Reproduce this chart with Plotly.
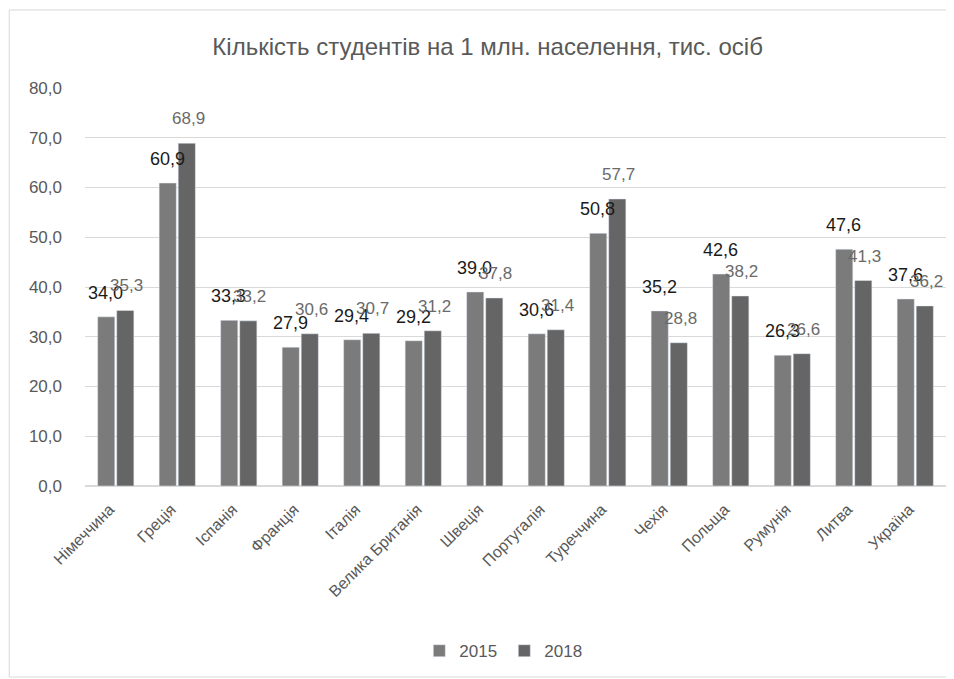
import plotly.graph_objects as go

categories = ["Німеччина", "Греція", "Іспанія", "Франція", "Італія", "Велика Британія",
              "Швеція", "Португалія", "Туреччина", "Чехія", "Польща", "Румунія", "Литва", "Україна"]
values_2015 = [34.0, 60.9, 33.3, 27.9, 29.4, 29.2, 39.0, 30.6, 50.8, 35.2, 42.6, 26.3, 47.6, 37.6]
values_2018 = [35.3, 68.9, 33.2, 30.6, 30.7, 31.2, 37.8, 31.4, 57.7, 28.8, 38.2, 26.6, 41.3, 36.2]
series_names = ["2015", "2018"]
title_text = "Кількість студентів на 1 млн. населення, тис. осіб"

c2015 = "#7b7b7b"
c2018 = "#656565"
font_fam = "Liberation Sans, Arial, sans-serif"

fig = go.Figure()
fig.add_trace(go.Bar(x=categories, y=values_2015, name=series_names[0], marker_color=c2015))
fig.add_trace(go.Bar(x=categories, y=values_2018, name=series_names[1], marker_color=c2018))

def fmt(v):
    return f"{v:.1f}".replace(".", ",")

annotations = []
for c, v in zip(categories, values_2015):
    annotations.append(dict(x=c, y=v, text=fmt(v), showarrow=False, xshift=-10, yshift=12,
                            yanchor="bottom", font=dict(size=18, color="#1a1a1a", family=font_fam)))
for c, v in zip(categories, values_2018):
    annotations.append(dict(x=c, y=v, text=fmt(v), showarrow=False, xshift=11, yshift=13,
                            yanchor="bottom", font=dict(size=17, color="#6a6a6a", family=font_fam)))

fig.update_layout(
    width=946, height=671,
    paper_bgcolor="white", plot_bgcolor="white",
    separators=", ",
    margin=dict(l=77, r=8, t=80, b=193, autoexpand=False),
    title=dict(text=title_text, x=0.507, xanchor="center", y=0.942, yanchor="middle",
               font=dict(size=24, color="#595959", family=font_fam)),
    barmode="group", bargap=0.38, bargroupgap=0.1,
    xaxis=dict(tickangle=-45, tickfont=dict(size=16, color="#595959", family=font_fam),
               showline=False, ticks="", showgrid=False, ticklabelstandoff=10, ticklabelshift=-6),
    yaxis=dict(range=[0, 80], dtick=10, tickformat=".1f", showgrid=True, gridcolor="#d9d9d9",
               gridwidth=1, zeroline=True, zerolinecolor="#d9d9d9", showline=False,
               tickfont=dict(size=17, color="#595959", family=font_fam), ticklabelstandoff=22),
    legend=dict(orientation="h", x=0.487, xanchor="center", y=-0.415, yanchor="middle",
                font=dict(size=17, color="#595959", family=font_fam), traceorder="normal",
                itemwidth=30, entrywidth=40, entrywidthmode="pixels"),
    annotations=annotations,
    shapes=[dict(type="rect", xref="paper", yref="paper", x0=-0.088, x1=1.006, y0=-0.48, y1=1.196,
                 line=dict(color="#d9d9d9", width=1), fillcolor="rgba(0,0,0,0)", layer="below")],
)
for tr in fig.data:
    tr.cliponaxis = False

fig.write_html("out.html")
